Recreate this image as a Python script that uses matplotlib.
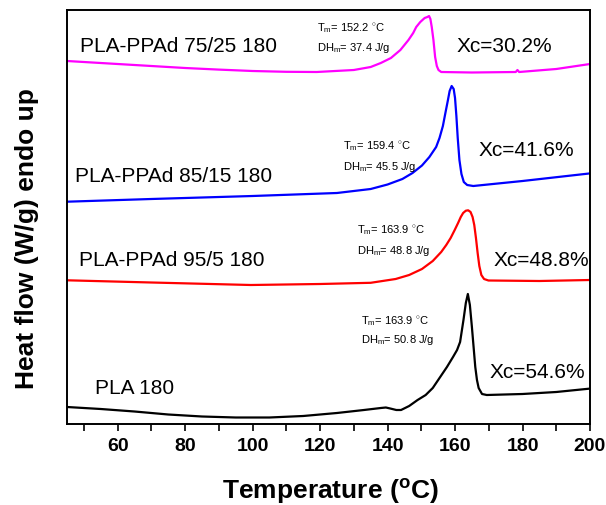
import numpy as np
import matplotlib
matplotlib.use("Agg")
import matplotlib.pyplot as plt
from matplotlib.ticker import MultipleLocator

plt.rcParams['font.family'] = ['Liberation Sans', 'DejaVu Sans']
plt.rcParams['mathtext.fontset'] = 'custom'
plt.rcParams['mathtext.rm'] = 'Liberation Sans'
plt.rcParams['mathtext.bf'] = 'Liberation Sans:bold'

# Temperature (°C) and heat flow (arbitrary units, endo up, curves offset)
T_7525 = [45, 60, 70, 80, 90, 100, 110, 119, 130, 135, 138, 141, 143.8, 146.2, 147.6, 148.5, 149.7, 151, 151.8, 152.3,
          152.7, 153.1, 153.6, 154.1, 154.6, 155.1, 155.9, 165, 178, 178.5, 179, 190, 200]
H_7525 = [367, 364, 362, 360, 358.4, 357, 356.2, 356, 358, 361, 365, 370, 378, 388, 395, 401, 406, 410, 411, 412,
          409, 401, 388, 371, 362, 358, 356, 355.5, 356, 358, 356, 359, 364]

T_8515 = [45, 70, 100, 125, 135, 140, 144.4, 147.4, 150.2, 152.4, 154.4, 155.4, 156.4, 157.2, 157.9, 158.4, 159,
          159.6, 160, 160.4, 160.8, 161.3, 161.9, 162.6, 163.6, 165.4, 180, 200]
H_8515 = [226.3, 229, 232, 235, 239, 243.5, 249, 255, 262.5, 271, 281, 290, 302, 316, 328, 337, 342,
          339, 330, 312, 290, 268, 254, 246, 243, 242, 247, 254.6]

T_955 = [45, 70, 99.5, 120, 135, 142.4, 146.4, 150.2, 153.4, 155.9, 157.4, 158.7, 159.9, 160.9, 161.7, 162.4, 163.2,
         163.9, 164.6, 165.2, 165.7, 166.2, 166.7, 167.2, 167.8, 168.6, 169.9, 185, 200]
H_955 = [147.7, 145.5, 143, 144, 145.2, 149, 153, 159, 167, 176, 183, 190, 198, 205, 211, 215, 217.3,
         217.7, 216, 211, 203, 190, 175, 162, 153, 149, 147.5, 147, 148]

T_pla = [45, 55, 65, 75, 85, 95, 105, 115, 125, 133, 138, 139.5, 140.8, 142.6, 144, 146.4, 148.9, 151.3, 153.4,
         155.6, 157.6, 159.4, 160.6, 161.5, 162.5, 163.2, 163.8, 164.4, 165, 165.5, 166, 166.5, 167, 168, 169.4,
         180, 190, 200]
H_pla = [21, 19, 16.5, 13.5, 11.5, 10.5, 10.5, 12, 15, 18, 20, 20.5, 19.5, 18, 18, 22, 28, 33, 40,
         51, 61, 71, 78, 86, 108, 125, 134, 123, 101, 81, 61, 48, 40, 34, 33,
         34, 36, 39.4]

names = ["PLA-PPAd 75/25 180", "PLA-PPAd 85/15 180", "PLA-PPAd 95/5 180", "PLA 180"]
xc_labels = ["Xc=30.2%", "Xc=41.6%", "Xc=48.8%", "Xc=54.6%"]
tm_vals = ["152.2", "159.4", "163.9", "163.9"]
dh_vals = ["37.4", "45.5", "48.8", "50.8"]
colors = ["#ff00ff", "#0000ff", "#ff0000", "#000000"]

fig = plt.figure(figsize=(6.06, 5.05), dpi=100)
ax = fig.add_axes([67/606, 81/505, 523/606, 414/505])

series = [(T_7525, H_7525), (T_8515, H_8515), (T_955, H_955), (T_pla, H_pla)]
for (t, h), c in zip(series, colors):
    ax.plot(t, h, color=c, lw=1.6, solid_joinstyle='round', solid_capstyle='round')

ax.set_xlim(45, 200)
ax.set_ylim(4, 418)
ax.xaxis.set_major_locator(MultipleLocator(20))
ax.xaxis.set_minor_locator(MultipleLocator(10))
ax.set_yticks([])
ax.tick_params(axis='x', which='both', direction='out', length=5, width=1.2,
               top=False, labelsize=14, pad=5)
for lab in ax.get_xticklabels():
    lab.set_fontweight('bold')
for s in ax.spines.values():
    s.set_linewidth(1.4)

# annotations (positions in data coords)
name_pos = [(48.9, 381), (47.5, 252), (48.6, 168), (53.2, 40)]
xc_pos = [(160.3, 382), (167.1, 278), (171.3, 167), (170.1, 55)]
tm_pos = [(119.1, 400), (126.8, 281.5), (131.0, 198), (132.0, 107)]
dh_pos = [(119.1, 380), (126.8, 261.5), (131.0, 177), (132.0, 88)]

for i in range(4):
    ax.text(*name_pos[i], names[i], fontsize=15, ha='left', va='center')
    ax.text(*xc_pos[i], xc_labels[i], fontsize=15, ha='left', va='center')
    ax.text(*tm_pos[i], r"T$_{\mathrm{m}}$= " + tm_vals[i] + r" $^{\circ}$C", fontsize=8, ha='left', va='center')
    ax.text(*dh_pos[i], r"DH$_{\mathrm{m}}$= " + dh_vals[i] + " J/g", fontsize=8, ha='left', va='center')

fig.text(330/606, 1 - 492/505, r"Temperature ($\mathbf{^{o}}$C)", fontsize=19, fontweight='bold',
         ha='center', va='center')
fig.text(27/606, 1 - 239/505, "Heat flow (W/g) endo up", fontsize=19, fontweight='bold',
         ha='center', va='center', rotation=90)

fig.savefig("out.png", dpi=100)
